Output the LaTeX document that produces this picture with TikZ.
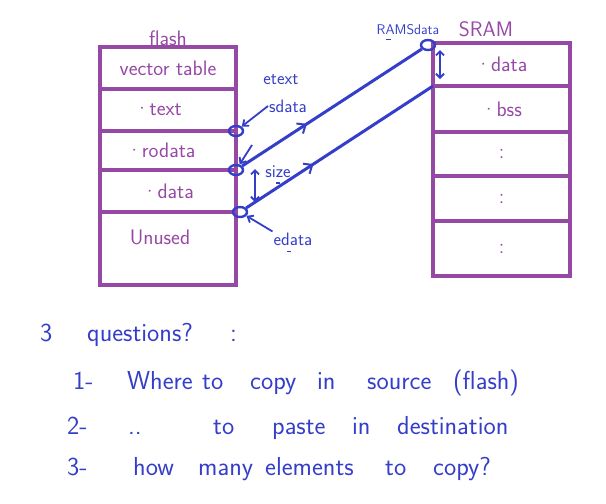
\documentclass[tikz,border=0pt]{standalone}
\usepackage{fontspec}
\usepackage{xcolor}
\usepackage{tikz}
\usetikzlibrary{arrows.meta,positioning,shapes.geometric,decorations.markings}
\definecolor{pen}{RGB}{150,72,165}
\definecolor{ink}{RGB}{52,62,200}

\begin{document}
\begin{tikzpicture}[x=1pt, y=-1pt, >=Stealth, font=\sffamily]
\tikzstyle{cell}=[rectangle, draw=pen, line width=3.4pt, outer sep=0pt, inner sep=0pt, text=pen, font=\sffamily\fontsize{21}{21}\selectfont]
\tikzstyle{fl}=[cell, minimum width=136pt]
\tikzstyle{sr}=[cell, minimum width=137pt]
\tikzstyle{ring}=[ellipse, draw=ink, line width=2.4pt, minimum width=14pt, minimum height=10pt, inner sep=0pt]
\tikzstyle{lbl}=[text=ink, font=\sffamily\fontsize{18}{18}\selectfont, inner sep=1pt]
\tikzstyle{title}=[text=pen, font=\sffamily\fontsize{21}{21}\selectfont]
\tikzstyle{wire}=[draw=ink, line width=3pt]
\tikzstyle{mid}=[postaction={decorate}, decoration={markings, mark=at position 0.36 with {\arrow{Straight Barb[length=7pt,width=12pt,line width=2pt]}}}]
\tikzstyle{span}=[draw=ink, line width=1.8pt, {Straight Barb[length=4pt,width=8pt]}-{Straight Barb[length=4pt,width=8pt]}]
\tikzstyle{pt}=[draw=ink, line width=1.8pt, -{Straight Barb[length=5pt,width=8pt]}]
\tikzstyle{hand}=[text=ink, anchor=base west, inner sep=0pt, font=\sffamily\fontsize{26}{26}\selectfont]
\useasboundingbox (0,0) rectangle (606,504);

\node[fl, minimum height=42pt, anchor=north] (f1) at (168,47) {vector table};
\node[fl, minimum height=42pt, below=0pt of f1] (f2) {\hspace{-20pt}·text};
\node[fl, minimum height=39pt, below=0pt of f2] (f3) {\hspace{-14pt}·rodata};
\node[fl, minimum height=42pt, below=0pt of f3] (f4) {·data};
\node[fl, minimum height=73pt, below=0pt of f4, text depth=22pt] (f5) {\hspace{-16pt}Unused};
\node[title, above=-2pt of f1] (fl) {flash};

\node[sr, minimum height=43pt, anchor=north] (s1) at (501.5,43) {·data};
\node[sr, minimum height=46pt, below=0pt of s1] (s2) {·bss};
\node[sr, minimum height=44pt, below=0pt of s2] (s3) {:};
\node[sr, minimum height=45pt, below=0pt of s3] (s4) {:};
\node[sr, minimum height=55pt, below=0pt of s4] (s5) {:};
\node[title] (sl) at (486,29) {SRAM};

\node[ring] (et) at (236,131) {};
\node[ring] (sd) at (236,170) {};
\node[ring] (ed) at (240,212) {};
\node[ring] (rs) at (428,45) {};

\node[lbl] (etl) at (281,80) {etext};
\node[lbl] (sdl) at (288,106) {sdata};
\node[lbl] (szl) at (278,172) {size};
\node[lbl] (edl) at (293,239) {edata};
\node[lbl, font=\sffamily\fontsize{14}{14}\selectfont] (rsl) at (408,30) {RAMSdata};

\coordinate (a1) at (252,145);
\coordinate (z1) at (255,169);
\coordinate (z2) at (255,202);
\coordinate (r1) at (440,50);
\coordinate (r2) at (440,79);

\draw[wire, mid] (sd) -- (rs);
\draw[wire, mid] (ed) -- (s1.south west);
\draw[pt] (sdl.west) -- (et);
\draw[pt] (a1) -- (sd);
\draw[pt] (edl.north west) -- (ed);
\draw[span] (z1) -- (z2);
\draw[span] (r1) -- (r2);
\draw[draw=ink, line width=1.6pt] ([xshift=10pt, yshift=-3pt]rsl.south west) -- ++(5,0);
\draw[draw=ink, line width=1.6pt] ([xshift=-2pt, yshift=-4pt]szl.south) -- ++(4,0);
\draw[draw=ink, line width=1.6pt] ([xshift=-6pt, yshift=-5pt]edl.south) -- ++(4,0);

\node[hand] (q0) at (40,341) {\makebox[47pt][l]{3}\makebox[143pt][l]{questions?}:};
\node[hand] (q1) at (73,389) {\makebox[54pt][l]{1-}\makebox[75pt][l]{Where}\makebox[48pt][l]{to}\makebox[67pt][l]{copy}\makebox[50pt][l]{in}\makebox[86pt][l]{source}(flash)};
\node[hand] (q2) at (67,434) {\makebox[61pt][l]{2-}\makebox[85pt][l]{..}\makebox[59pt][l]{to}\makebox[80pt][l]{paste}\makebox[45pt][l]{in}destination};
\node[hand] (q3) at (67,475) {\makebox[66pt][l]{3-}\makebox[65pt][l]{how}\makebox[67pt][l]{many}\makebox[120pt][l]{elements}\makebox[48pt][l]{to}copy?};
\end{tikzpicture}
\end{document}
